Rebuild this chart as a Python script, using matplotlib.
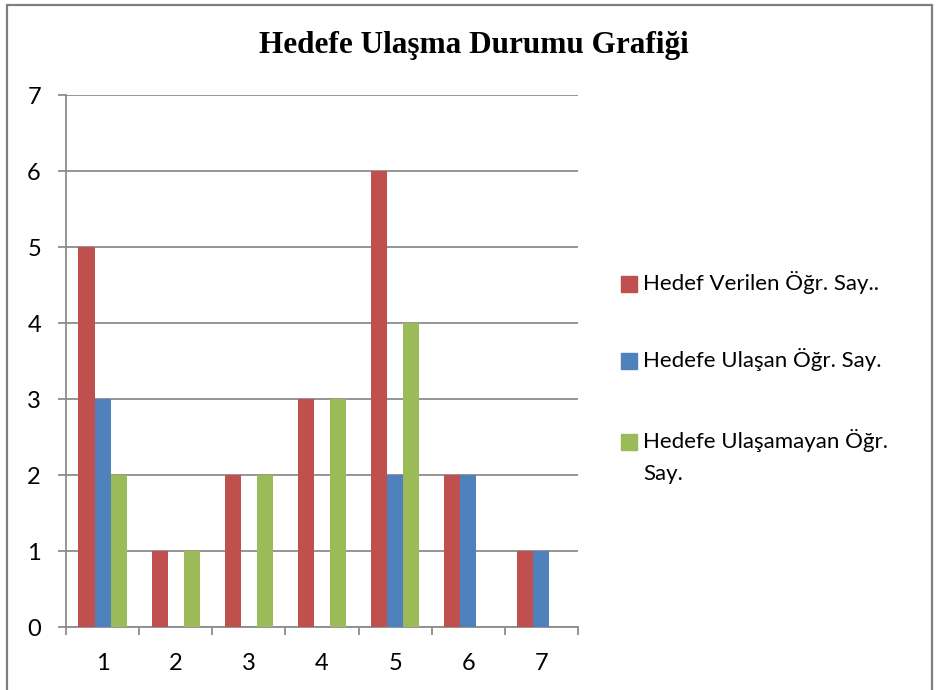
import numpy as np
import matplotlib
matplotlib.use("Agg")
import matplotlib.pyplot as plt
from matplotlib.patches import Rectangle

# data
categories = ["1", "2", "3", "4", "5", "6", "7"]
hedef_verilen = [5, 1, 2, 3, 6, 2, 1]
hedefe_ulasan = [3, 0, 0, 0, 2, 2, 1]
hedefe_ulasamayan = [2, 1, 2, 3, 4, 0, 0]
series_names = ["Hedef Verilen Öğr. Say..", "Hedefe Ulaşan Öğr. Say.",
                "Hedefe Ulaşamayan Öğr.\nSay."]
colors = ["#C0504D", "#4F81BD", "#9BBB59"]

W, H = 939, 690
fig = plt.figure(figsize=(W / 100, H / 100), dpi=100)
sans = "Lato"

# outer chart border
fig.add_artist(Rectangle((7 / W, -0.05), (932 - 7) / W, 1.05 - 5 / H,
                         transform=fig.transFigure, fill=False,
                         edgecolor="#7f7f7f", linewidth=1.6))

ax = fig.add_axes([66 / W, 1 - 627 / H, (578 - 66) / W, (627 - 95) / H])

x = np.arange(len(categories))
bw = 0.22
all_series = [hedef_verilen, hedefe_ulasan, hedefe_ulasamayan]
for i, (vals, c) in enumerate(zip(all_series, colors)):
    ax.bar(x + (i - 1) * bw, vals, bw, color=c, zorder=3)

ax.set_xlim(-0.5, len(categories) - 0.5)
ax.set_ylim(0, 7)
ax.set_yticks(range(0, 8))
ax.yaxis.grid(True, color="#8c8c8c", linewidth=1.3, zorder=0)

gray = "#8c8c8c"
for s in ["top", "right"]:
    ax.spines[s].set_visible(False)
for s in ["left", "bottom"]:
    ax.spines[s].set_color(gray)
    ax.spines[s].set_linewidth(1.3)

# tick marks between categories, labels at centers
ax.set_xticks(np.arange(-0.5, len(categories), 1), labels=[])
ax.set_xticks(x, labels=categories, minor=True)
ax.tick_params(axis="x", which="major", length=6, width=1.3, color=gray, direction="out")
ax.tick_params(axis="x", which="minor", length=0, pad=19, labelsize=17)
ax.tick_params(axis="y", length=6, width=1.3, color=gray, pad=12, labelsize=17)
for lab in ax.get_xticklabels(minor=True) + ax.get_yticklabels():
    lab.set_fontfamily(sans)

fig.text(474 / W, 1 - 45 / H, "Hedefe Ulaşma Durumu Grafiği",
         family="Liberation Serif", fontweight="bold", fontsize=22.5,
         ha="center", va="center")

# legend
leg_y = [284, 361, 442]
for name, c, yy in zip(series_names, colors, leg_y):
    fig.add_artist(Rectangle((621 / W, 1 - (yy + 8) / H), 16 / W, 16 / H,
                             transform=fig.transFigure, color=c))
    fig.text(643 / W, 1 - (yy - 13) / H, name, family=sans, fontsize=16,
             ha="left", va="top", linespacing=1.75)

fig.savefig("out.png", dpi=100)
